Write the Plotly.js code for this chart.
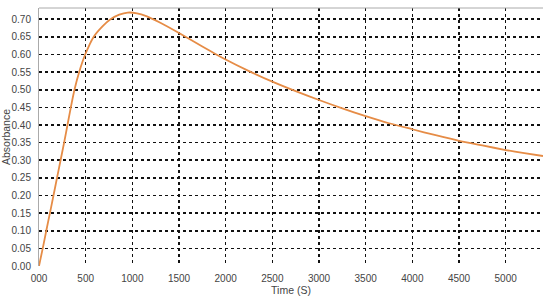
<!DOCTYPE html>
<html>
<head>
<meta charset="utf-8">
<script src="https://cdn.plot.ly/plotly-3.0.1.min.js"></script>
<style>
  html, body { margin: 0; padding: 0; background: #fff; }
  #chart { width: 550px; height: 302px; }
</style>
</head>
<body>
<div id="chart"></div>
<script>
// значения
const timeS = [0, 40, 78, 117, 155, 193, 231, 269, 305, 341, 380, 430, 495, 585, 680, 766, 860, 950, 1050, 1150, 1300, 1500, 1750, 2000, 2250, 2500, 2750, 3000, 3250, 3500, 3750, 4000, 4250, 4500, 4750, 5000, 5200, 5400];
const absorbance = [0.0, 0.05, 0.10, 0.15, 0.20, 0.25, 0.30, 0.35, 0.40, 0.45, 0.50, 0.55, 0.60, 0.65, 0.68, 0.70, 0.713, 0.719, 0.717, 0.709, 0.690, 0.661, 0.623, 0.586, 0.553, 0.523, 0.496, 0.471, 0.447, 0.425, 0.405, 0.388, 0.371, 0.355, 0.342, 0.329, 0.320, 0.312];

const xTickVals = [0, 500, 1000, 1500, 2000, 2500, 3000, 3500, 4000, 4500, 5000];
const xTickText = ['000', '500', '1000', '1500', '2000', '2500', '3000', '3500', '4000', '4500', '5000'];
const yTickVals = [0, 0.05, 0.10, 0.15, 0.20, 0.25, 0.30, 0.35, 0.40, 0.45, 0.50, 0.55, 0.60, 0.65, 0.70];

const gridStyle = { showgrid: true, gridcolor: '#111', griddash: 'dot', gridwidth: 1.6 };

Plotly.newPlot('chart', [{
    x: timeS,
    y: absorbance,
    type: 'scatter',
    mode: 'lines',
    line: { color: 'rgb(230, 140, 70)', width: 1.8, shape: 'spline', smoothing: 0.5 },
    hoverinfo: 'none'
}], {
    width: 550,
    height: 302,
    margin: { l: 39, r: 7, t: 8, b: 36 },
    paper_bgcolor: '#fff',
    plot_bgcolor: '#fff',
    showlegend: false,
    font: { family: 'Liberation Sans, Arial, sans-serif', size: 10, color: '#444' },
    xaxis: Object.assign({
        range: [0, 5400],
        tickvals: xTickVals,
        ticktext: xTickText,
        ticks: '',
        ticklabelstandoff: 5,
        zeroline: false,
        showline: false,
        title: { text: 'Time (S)', font: { size: 10.5, color: '#444' }, standoff: 3 }
    }, gridStyle),
    yaxis: Object.assign({
        range: [0, 0.732],
        tickvals: yTickVals,
        tickformat: '.2f',
        ticks: '',
        ticklabelstandoff: 5,
        zeroline: false,
        showline: true,
        linecolor: '#aaa',
        linewidth: 1,
        title: { text: 'Absorbance', font: { size: 10.5, color: '#444' }, standoff: 3 }
    }, gridStyle),
    shapes: [{
        type: 'line', xref: 'paper', yref: 'paper',
        x0: 0, x1: 1, y0: 1, y1: 1,
        line: { color: '#aaa', width: 1 }
    }]
}, { displayModeBar: false, staticPlot: true });
</script>
</body>
</html>
